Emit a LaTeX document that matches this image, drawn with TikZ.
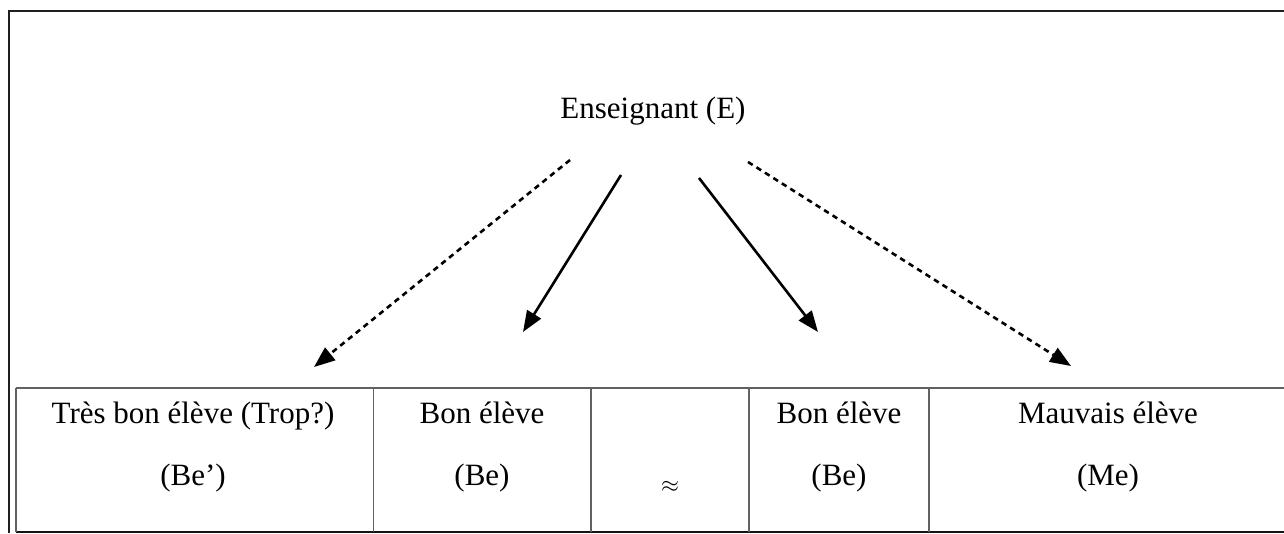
\documentclass[tikz,border=0pt]{standalone}
\usepackage{fontspec}
\usepackage{graphicx}
\setmainfont{Liberation Serif}
\usetikzlibrary{arrows.meta}
\begin{document}
\begin{tikzpicture}[x=1pt,y=-1pt,
  frameline/.style={line width=2.6pt,draw=black!88},
  gridline/.style={line width=1.9pt,draw=black!62},
  txt/.style={inner sep=0pt,anchor=base,font=\fontsize{31}{36}\selectfont},
  solidarrow/.style={line width=2.6pt,-{Triangle[length=21pt,width=16pt]}},
  dasharrow/.style={line width=2.6pt,dash pattern=on 5.5pt off 4.5pt,-{Triangle[length=21pt,width=16pt]}}]
\useasboundingbox (0,0) rectangle (1284,533);
% outer frame
\coordinate (fTL) at (9,11);
\coordinate (fTR) at (1284,11);
\coordinate (fBL) at (9,533);
\draw[frameline] (fTR) -- (fTL) -- (fBL);
% table
\coordinate (t0) at (16,388);
\coordinate (t1) at (373.5,388);
\coordinate (t2) at (591,388);
\coordinate (t3) at (749,388);
\coordinate (t4) at (929,388);
\coordinate (t5) at (1284,388);
\coordinate (b0) at (16,532);
\coordinate (b1) at (373.5,532);
\coordinate (b2) at (591,532);
\coordinate (b3) at (749,532);
\coordinate (b4) at (929,532);
\coordinate (b5) at (1284,532);
\draw[gridline] (t0) -- (t5);
\draw[gridline,draw=black!92] (b0) -- (b5);
\foreach \i in {0,...,4} \draw[gridline] (t\i) -- (b\i);
% texts
\node[txt] (E) at (653,118) {Enseignant (E)};
\node[txt] (c1a) at (193,423) {Très bon élève (Trop?)};
\node[txt] (c1b) at (193,485) {(Be’)};
\node[txt] (c2a) at (482,423) {Bon élève};
\node[txt] (c2b) at (482,485) {(Be)};
\node[inner sep=0pt] (c3) at (670,487) {\scalebox{2.3}{$\approx$}};
\node[txt] (c4a) at (839,423) {Bon élève};
\node[txt] (c4b) at (839,485) {(Be)};
\node[txt] (c5a) at (1108,423) {Mauvais élève};
\node[txt] (c5b) at (1108,485) {(Me)};
% arrows
\coordinate (s1) at (570,160);
\coordinate (e1) at (314,367);
\coordinate (s2) at (621,175);
\coordinate (e2) at (523,332);
\coordinate (s3) at (699,178);
\coordinate (e3) at (818,332);
\coordinate (s4) at (748,162);
\coordinate (e4) at (1071,366);
\draw[dasharrow] (s1) -- (e1);
\draw[solidarrow] (s2) -- (e2);
\draw[solidarrow] (s3) -- (e3);
\draw[dasharrow] (s4) -- (e4);
\end{tikzpicture}
\end{document}
